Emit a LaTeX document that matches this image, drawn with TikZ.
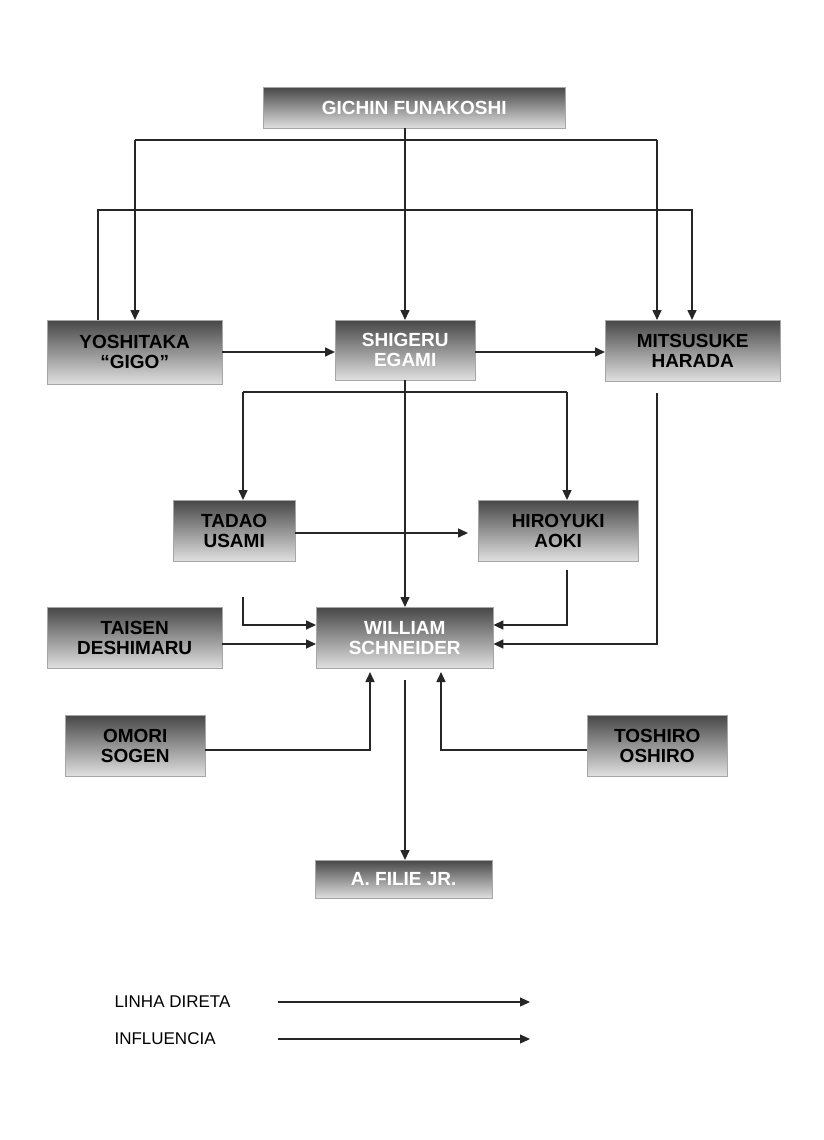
\documentclass[tikz,border=0pt]{standalone}
\usepackage{fontspec}
\setmainfont{Liberation Sans}
\usetikzlibrary{arrows.meta}
\begin{document}
\begin{tikzpicture}[x=1pt,y=-1pt,
  box/.style={draw=gray!70,top color=black!72,bottom color=black!12,font=\fontsize{19}{20}\selectfont\bfseries,align=center,inner sep=0pt,anchor=north west},
  wt/.style={text=white},
  con/.style={line width=1.6pt,draw=black!85,-{Triangle[length=10pt,width=9pt]}},
  ln/.style={line width=1.6pt,draw=black!85}]
\useasboundingbox (0,0) rectangle (824,1140);
\node[box,wt,minimum width=302pt,minimum height=41pt] (gf) at (263,87) {GICHIN FUNAKOSHI};
\node[box,minimum width=175pt,minimum height=64pt] (yo) at (47,320) {YOSHITAKA\\``GIGO''};
\node[box,wt,minimum width=140pt,minimum height=60pt] (se) at (335,320) {SHIGERU\\EGAMI};
\node[box,minimum width=175pt,minimum height=61pt] (mh) at (605,320) {MITSUSUKE\\HARADA};
\node[box,minimum width=122pt,minimum height=61pt] (tu) at (173,500) {TADAO\\USAMI};
\node[box,minimum width=160pt,minimum height=61pt] (ha) at (478,500) {HIROYUKI\\AOKI};
\node[box,minimum width=175pt,minimum height=61pt] (td) at (47,607) {TAISEN\\DESHIMARU};
\node[box,wt,minimum width=177pt,minimum height=61pt] (ws) at (316,607) {WILLIAM\\SCHNEIDER};
\node[box,minimum width=140pt,minimum height=61pt] (os) at (65,715) {OMORI\\SOGEN};
\node[box,minimum width=140pt,minimum height=61pt] (to) at (587,715) {TOSHIRO\\OSHIRO};
\node[box,wt,minimum width=177pt,minimum height=38pt] (af) at (315,860) {A. FILIE JR.};
\coordinate (g1) at (135,140); \coordinate (g2) at (657,140);
\draw[con] (gf.south -| 405,0) -- (se.north -| 405,0);
\draw[ln] (g1) -- (g2);
\draw[con] (g1) -- (g1 |- yo.north);
\draw[con] (g2) -- (g2 |- mh.north);
\coordinate (y1) at (98,210); \coordinate (y2) at (692,210);
\draw[con] (yo.north -| y1) -- (y1) -- (y2) -- (y2 |- mh.north);
\draw[con] (yo.east |- 0,352) -- (se.west |- 0,352);
\draw[con] (se.east |- 0,352) -- (mh.west |- 0,352);
\coordinate (s1) at (243,392); \coordinate (s2) at (567,392);
\draw[ln] (s1) -- (s2);
\draw[con] (s1) -- (s1 |- tu.north);
\draw[con] (s2) -- (s2 |- ha.north);
\draw[con] (se.south -| 405,0) -- (ws.north -| 405,0);
\draw[con] (tu.east |- 0,533) -- (468,533);
\draw[con] (243,597) -- (243,625) -- (ws.west |- 0,625);
\draw[con] (567,570) -- (567,625) -- (ws.east |- 0,625);
\draw[con] (td.east |- 0,644) -- (ws.west |- 0,644);
\draw[con] (657,393) -- (657,644) -- (ws.east |- 0,644);
\draw[con] (os.east |- 0,750) -- (370,750) -- (370,672);
\draw[con] (to.west |- 0,750) -- (441,750) -- (441,672);
\draw[con] (405,680) -- (af.north -| 405,0);
\node[anchor=west,font=\fontsize{17}{18}\selectfont] (l1) at (111,1002) {LINHA DIRETA};
\node[anchor=west,font=\fontsize{17}{18}\selectfont] (l2) at (111,1039) {INFLUENCIA};
\coordinate (a1) at (278,1002); \coordinate (b1) at (530,1002);
\coordinate (a2) at (278,1039); \coordinate (b2) at (530,1039);
\draw[con,line width=1.2pt] (a1) -- (b1);
\draw[con,line width=1.2pt] (a2) -- (b2);
\end{tikzpicture}
\end{document}
